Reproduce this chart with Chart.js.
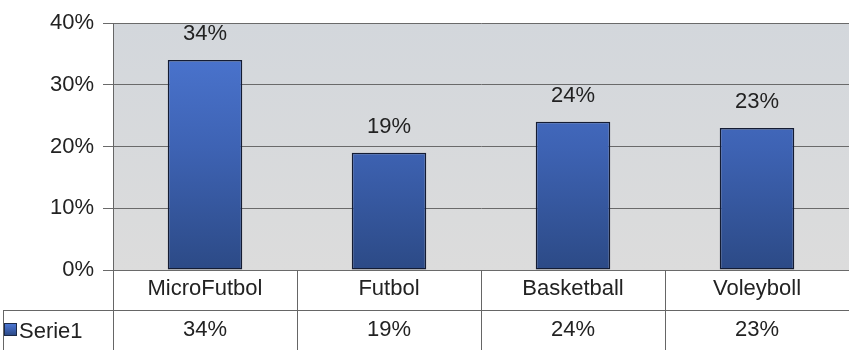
<!DOCTYPE html>
<html lang="es">
<head>
    <meta charset="UTF-8">
    <title>Deportes</title>
    <script src="https://cdn.jsdelivr.net/npm/chart.js"></script>
    <style>
        html, body { margin: 0; padding: 0; background: #fff; }
        #wrap { width: 849px; height: 350px; position: relative; }
    </style>
</head>
<body>
    <div id="wrap"><canvas id="chartDeportes"></canvas></div>

    <script>
    // datos
    const categorias = ['MicroFutbol', 'Futbol', 'Basketball', 'Voleyboll'];
    const serie1 = [34, 19, 24, 23];
    const nombreSerie = 'Serie1';
    const ejeMax = 40;
    const ejePaso = 10;

    const fuente = 'Arial, "Liberation Sans", sans-serif';
    const tam = 22;

    function gradienteBarra(ctx, area) {
        const g = ctx.createLinearGradient(0, area.top, 0, area.bottom);
        g.addColorStop(0, '#4e79d6');
        g.addColorStop(0.5, '#3e63b4');
        g.addColorStop(1, '#2c4a86');
        return g;
    }

    // fondo gris del area del grafico
    const fondoPlugin = {
        id: 'fondo',
        beforeDraw(chart) {
            const { ctx, chartArea: a } = chart;
            const g = ctx.createLinearGradient(0, a.top, 0, a.bottom);
            g.addColorStop(0, '#d3d7dc');
            g.addColorStop(1, '#dcdcdc');
            ctx.save();
            ctx.fillStyle = g;
            ctx.fillRect(a.left, a.top, a.right - a.left, a.bottom - a.top);
            ctx.restore();
        }
    };

    // etiquetas encima de las barras + tabla de datos
    const tablaPlugin = {
        id: 'tabla',
        afterDraw(chart) {
            const { ctx, chartArea: a } = chart;
            const x = chart.scales.x;
            const meta = chart.getDatasetMeta(0);
            const ancho = (a.right - a.left) / categorias.length;
            const fila1 = a.bottom, fila2 = a.bottom + 40, fin = a.bottom + 80;

            ctx.save();
            ctx.fillStyle = '#222';
            ctx.font = tam + 'px ' + fuente;
            ctx.textAlign = 'center';
            ctx.textBaseline = 'middle';

            meta.data.forEach((bar, i) => {
                ctx.fillText(serie1[i] + '%', bar.x, bar.y - 26);
            });

            // lineas de la tabla
            ctx.strokeStyle = '#666';
            ctx.lineWidth = 1;
            ctx.beginPath();
            ctx.moveTo(3, fila2 + 0.5); ctx.lineTo(a.right, fila2 + 0.5);
            ctx.moveTo(3.5, fila2); ctx.lineTo(3.5, fin);
            ctx.moveTo(a.left + 0.5, fila1); ctx.lineTo(a.left + 0.5, fin);
            for (let i = 1; i < categorias.length; i++) {
                const px = Math.round(a.left + ancho * i) + 0.5;
                ctx.moveTo(px, fila1); ctx.lineTo(px, fin);
            }
            ctx.stroke();

            categorias.forEach((c, i) => {
                const cx = x.getPixelForValue(i);
                ctx.fillText(c, cx, fila1 + 19);
                ctx.fillText(serie1[i] + '%', cx, fila2 + 20);
            });

            // clave de leyenda
            ctx.fillStyle = gradienteBarra(ctx, { top: fila2 + 13, bottom: fila2 + 25 });
            ctx.fillRect(4, fila2 + 13, 12, 12);
            ctx.strokeStyle = '#1c2a48';
            ctx.strokeRect(4.5, fila2 + 13.5, 12, 12);
            ctx.fillStyle = '#222';
            ctx.textAlign = 'left';
            ctx.fillText(nombreSerie, 19, fila2 + 22);
            ctx.restore();
        }
    };

    new Chart(document.getElementById('chartDeportes'), {
        type: 'bar',
        data: {
            labels: categorias,
            datasets: [{
                label: nombreSerie,
                data: serie1,
                backgroundColor: (c) => {
                    const area = c.chart.chartArea;
                    if (!area) return '#3e63b4';
                    return gradienteBarra(c.chart.ctx, area);
                },
                borderColor: '#141c33',
                borderWidth: 1.5,
                borderSkipped: false,
                categoryPercentage: 1,
                barPercentage: 0.405
            }]
        },
        options: {
            responsive: true,
            maintainAspectRatio: false,
            animation: false,
            layout: { padding: { top: 23, right: 0, bottom: 80, left: 0 } },
            plugins: {
                legend: { display: false },
                tooltip: { enabled: false }
            },
            scales: {
                x: { display: false },
                y: {
                    min: 0,
                    max: ejeMax,
                    afterFit(scale) { scale.width = 113; },
                    ticks: {
                        stepSize: ejePaso,
                        color: '#222',
                        padding: 9,
                        font: { size: tam, family: fuente },
                        callback: (v) => v + '%'
                    },
                    grid: { color: '#6a6a6a', lineWidth: 1, tickLength: 10 },
                    border: { display: true, color: '#666' }
                }
            }
        },
        plugins: [fondoPlugin, tablaPlugin]
    });
    </script>
</body>
</html>
